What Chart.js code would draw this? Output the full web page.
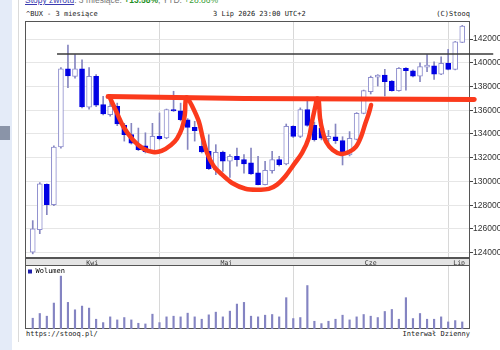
<!DOCTYPE html>
<html>
<head>
<meta charset="utf-8">
<script src="https://cdn.jsdelivr.net/npm/chart.js@4.4.1/dist/chart.umd.min.js"></script>
<style>
body { margin:0; width:500px; height:350px; overflow:hidden; background:#fff; position:relative; }
.t { position:absolute; font-family:"DejaVu Sans Mono", monospace; font-size:7px; line-height:8px; color:#222; white-space:nowrap; }
#ret { position:absolute; left:25px; top:-5px; font-family:"Liberation Sans", Arial, sans-serif; font-size:8.5px; line-height:10px; color:#777; white-space:nowrap; }
#ret a { color:#3b3bb0; text-decoration:underline; }
#ret b { color:#1f8f1f; }
#ret i { font-style:normal; color:#3aa03a; }
#strip { position:absolute; left:0; top:0; width:12px; height:350px; background:#e4ebf8; }
#block { position:absolute; left:0; top:126px; width:10px; height:14px; background:#8a94a8; }
#edge { position:absolute; left:18px; top:0; width:1px; height:342px; background:#dadada; }
canvas { position:absolute; left:0; }
#price { top:0; }
#vol { top:265px; }
</style>
</head>
<body>
<div id="strip"></div>
<div id="block"></div>
<div id="edge"></div>
<div id="ret"><a>Stopy zwrotu</a>: 3 miesiące: <b>+13.58%</b>, YTD: <i>+28.86%</i></div>
<div class="t" style="left:26px; top:10px;">^BUX - 3 miesiące</div>
<div class="t" style="left:213px; top:10px;">3 Lip 2026 23:00 UTC+2</div>
<div class="t" style="right:30px; top:10px;">(C)Stooq</div>
<div class="t" style="left:26px; top:330px;">https://stooq.pl/</div>
<div class="t" style="right:30px; top:330px;">Interwał Dzienny</div>
<canvas id="price" width="500" height="266"></canvas>
<canvas id="vol" width="500" height="64"></canvas>
<script>
// trading days (MM-DD, 2026)
var days = ['04-07','04-08','04-09','04-10','04-13','04-14','04-15','04-16','04-17','04-20','04-21','04-22','04-23','04-24','04-27','04-28','04-29','04-30',
  '05-04','05-05','05-06','05-07','05-08','05-11','05-12','05-13','05-14','05-15','05-18','05-19','05-20','05-21','05-22','05-26','05-27','05-28','05-29',
  '06-01','06-02','06-03','06-04','06-05','06-08','06-09','06-10','06-11','06-12','06-15','06-16','06-17','06-18','06-19','06-22','06-23','06-24','06-25','06-26','06-29','06-30',
  '07-01','07-02','07-03'];

var open  = [124040,125940,129750,128050,132900,139500,138860,139500,136250,138860,136470,135620,136330,134730,133940,133100,133000,132540,
  133800,133660,136050,135960,135200,134560,132960,132540,131000,132480,131700,132120,131840,131560,130720,129730,130910,131840,131470,
  134650,133800,136050,134730,134500,133600,133770,133440,132230,133550,135740,137560,138780,138970,138460,137650,139530,139330,138880,139620,139750,139050,
  139950,139450,141720];
var high  = [126700,129900,129800,133000,139600,141500,140700,140250,139600,139000,137170,137100,136600,134900,134900,134500,134100,134900,
  135770,136100,137600,136600,135300,135070,134200,133940,133100,132550,132260,132820,132260,132820,132120,131700,132540,132120,134840,
  134700,136200,136750,135000,135200,134300,134840,133770,134200,135800,137700,138880,139000,139450,138500,139600,139600,139400,140000,140700,140090,140500,
  141130,141800,143150];
var low   = [123900,125600,127200,127950,132800,137900,138700,136200,136100,136300,135600,135500,134700,133400,133150,132600,132400,132400,
  133500,133600,135900,135100,132700,133400,132400,131000,130570,130850,130350,131280,130700,130600,129700,129700,130700,131300,131400,
  133700,133700,134650,133400,133500,133300,133200,131390,132150,133500,135700,137370,138040,137200,137600,137600,137700,138800,138400,139250,138600,139000,
  139400,139400,141700];
var close = [126000,129800,128050,132900,139500,138900,139500,136270,138860,136420,135690,136330,134840,133940,133220,132680,132500,133800,
  133600,136050,135950,135200,134560,134280,132480,131080,132460,131700,132120,131840,131470,130630,129730,130940,131840,131420,134650,
  133800,136050,134730,133520,133640,133800,133440,132510,133640,135740,137650,138780,138970,138400,137650,139530,139330,138880,139670,139810,139050,139950,
  139450,141770,143100];
var volume = [32,46,38,77,157,79,57,68,62,29,19,36,27,34,27,17,15,44,
  19,36,38,36,47,36,29,42,50,36,53,74,79,38,36,41,43,36,93,
  31,34,129,23,16,23,29,41,27,36,43,38,34,52,58,29,93,31,46,29,29,36,
  21,25,21];

var priceTicks = [124000,126000,128000,130000,132000,134000,136000,138000,140000,142000];
var monthNames = ['Kwi','Maj','Cze','Lip'];

// drawn-on annotations, as [day index, price]
var resistance = [[3.45,140740],[65.4,140740]];
var redLevel = [[10.7,137150],[30,137000],[62.7,136900]];
var redCups = [[10.98,137030],[11.9,135850],[12.9,134590],[14.25,133500],[15.67,132780],[17.09,132480],[18.3,132570],[19.64,133070],
  [20.5,133620],[21.2,134500],[21.6,135620],[21.68,136610],[21.78,137070],
  [21.92,137070],[22.63,136360],[23.58,135070],[24.15,133660],[24.76,132400],[25.71,131280],[26.89,130570],[28.31,129870],[30.2,129390],
  [32.1,129310],[33.52,129370],[34.7,129730],[35.88,130440],[37.07,131420],[38.25,132400],[39.2,133660],[39.67,135070],[40.14,136330],[40.38,136970],
  [40.6,136900],[40.8,135350],[41.16,134250],[41.66,133350],[42.61,132650],[43.79,132320],[44.97,132500],[45.92,132930],[46.63,133770],
  [47.24,134900],[47.73,135740],[48.05,136440]];

var xMin = -1.1, xMax = 62.1;
var yMin = 123550, yMax = 143520;

var RED = '#fb3a1c', DOWN = '#0000e4', UPLINE = '#8d8dcd', WICK = '#8686c0', GRID = '#e6e6e6', MGRID = '#d8d8d8', FRAME = '#555';

// month boundaries and label positions
var monthStarts = [];
for (var i = 1; i < days.length; i++) {
  if (days[i].slice(0, 2) !== days[i - 1].slice(0, 2)) monthStarts.push(i);
}
var bounds = [xMin].concat(monthStarts).concat([xMax]);
var monthMids = [];
for (var k = 0; k < bounds.length - 1; k++) monthMids.push((bounds[k] + bounds[k + 1]) / 2);

var idx = days.map(function (d, i) { return i; });
var up = idx.map(function (i) { return close[i] >= open[i]; });
function pts(a) { return a.map(function (p) { return { x: p[0], y: p[1] }; }); }

var framePlugin = {
  id: 'frame',
  beforeDraw: function (chart, args, opts) {
    var a = chart.chartArea, c = chart.ctx;
    if (opts.band) {
      c.save();
      c.fillStyle = '#e4e4e4';
      c.fillRect(a.left, a.bottom, a.right - a.left, opts.band);
      c.strokeStyle = FRAME;
      c.lineWidth = 1;
      c.strokeRect(a.left + 0.5, a.bottom + 0.5, a.right - a.left - 1, opts.band - 1);
      c.restore();
    }
  },
  beforeDatasetsDraw: function (chart) {
    var a = chart.chartArea, c = chart.ctx;
    c.save();
    c.strokeStyle = FRAME;
    c.lineWidth = 1;
    c.strokeRect(a.left + 0.5, a.top + 0.5, a.right - a.left - 1, a.bottom - a.top - 1);
    c.restore();
  }
};

function monthGridAxis() {
  return {
    type: 'linear', position: 'bottom', min: xMin, max: xMax, offset: false,
    afterBuildTicks: function (s) { s.ticks = monthStarts.map(function (v) { return { value: v }; }); },
    afterFit: function (s) { s.height = 0; },
    grid: { color: MGRID, drawTicks: false, offset: false },
    border: { display: false },
    ticks: { display: false }
  };
}

new Chart(document.getElementById('price'), {
  type: 'bar',
  data: {
    datasets: [
      { type: 'line', data: pts(redLevel), borderColor: RED, borderWidth: 5, pointRadius: 0, clip: false, order: 0, borderCapStyle: 'round' },
      { type: 'line', data: pts(redCups), borderColor: RED, borderWidth: 4.5, pointRadius: 0, tension: 0.35, clip: false, order: 0, borderCapStyle: 'round', borderJoinStyle: 'round' },
      { type: 'line', data: pts(resistance), borderColor: '#3a3a3a', borderWidth: 1.5, pointRadius: 0, clip: false, order: 1 },
      { type: 'bar', data: idx.map(function (i) { return { x: i, y: [open[i], close[i]] }; }),
        barThickness: 5, borderWidth: 1, borderSkipped: false, grouped: false, order: 2,
        backgroundColor: idx.map(function (i) { return up[i] ? '#ffffff' : DOWN; }),
        borderColor: idx.map(function (i) { return up[i] ? UPLINE : DOWN; }) },
      { type: 'bar', data: idx.map(function (i) { return { x: i, y: [low[i], high[i]] }; }),
        barThickness: 1, backgroundColor: WICK, grouped: false, order: 3 }
    ]
  },
  options: {
    responsive: false, animation: false, events: [],
    layout: { padding: { left: 25, top: 21, right: 0, bottom: 0 } },
    plugins: { legend: { display: false }, tooltip: { enabled: false }, frame: { band: 8 } },
    scales: {
      x: monthGridAxis(),
      xm: {
        type: 'linear', position: 'bottom', min: xMin, max: xMax, offset: false,
        afterBuildTicks: function (s) { s.ticks = monthMids.map(function (v) { return { value: v }; }); },
        afterFit: function (s) { s.height = 8; },
        grid: { display: false, drawTicks: false, offset: false },
        border: { display: false },
        ticks: { autoSkip: false, maxRotation: 0, padding: 1, color: '#333',
          font: { family: 'DejaVu Sans Mono', size: 6.5 },
          callback: function (v, i) { return monthNames[i]; } }
      },
      y: {
        type: 'linear', position: 'right', min: yMin, max: yMax,
        afterBuildTicks: function (s) { s.ticks = priceTicks.map(function (v) { return { value: v }; }); },
        afterFit: function (s) { s.width = 30; },
        grid: { color: GRID, tickLength: 3, tickColor: '#444' },
        border: { display: false },
        ticks: { padding: 0, color: '#333', font: { family: 'Liberation Sans', size: 8.5 },
          callback: function (v) { return String(v); } }
      }
    }
  },
  plugins: [framePlugin]
});

new Chart(document.getElementById('vol'), {
  type: 'bar',
  data: {
    datasets: [{ label: 'Wolumen', data: idx.map(function (i) { return { x: i, y: volume[i] }; }),
      backgroundColor: '#8484c2', barThickness: 1.5 }]
  },
  options: {
    responsive: false, animation: false, events: [],
    layout: { padding: { left: 25, right: 30, top: 0, bottom: 0 } },
    plugins: {
      tooltip: { enabled: false },
      frame: {},
      legend: {
        position: 'chartArea', align: 'start',
        labels: {
          boxWidth: 4, boxHeight: 4, padding: 3, color: '#222',
          font: { family: 'DejaVu Sans Mono', size: 7 },
          generateLabels: function () {
            return [{ text: 'Wolumen', fillStyle: '#1d1dab', strokeStyle: '#1d1dab', lineWidth: 0, hidden: false, datasetIndex: 0 }];
          }
        }
      }
    },
    scales: {
      x: monthGridAxis(),
      y: { display: false, min: 0, max: 190 }
    }
  },
  plugins: [framePlugin]
});
</script>
</body>
</html>
